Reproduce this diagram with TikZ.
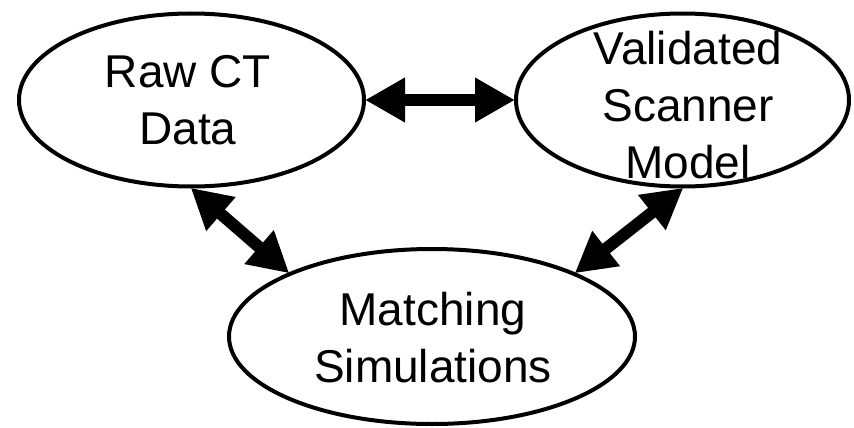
\documentclass[tikz,border=0pt]{standalone}
\usepackage{fontspec}
\setmainfont{Liberation Sans}
\usetikzlibrary{shapes.geometric,arrows.meta}
\tikzset{
  bubble/.style={ellipse, draw=black, line width=4pt, inner sep=0pt, fill=white},
  label text/.style={align=center, inner sep=0pt, font=\fontsize{46pt}{57pt}\selectfont},
  link/.style={line width=12pt, {Triangle[length=40pt,width=42pt]}-{Triangle[length=40pt,width=42pt]}, shorten <=-1pt, shorten >=-1pt}
}
\begin{document}
\begin{tikzpicture}[x=1pt,y=-1pt]
\useasboundingbox[fill=white] (0,0) rectangle (854,428);
\node[bubble, minimum width=345pt, minimum height=173pt] (raw) at (191.5,100) {};
\node[bubble, minimum width=333pt, minimum height=173pt] (val) at (682.5,100) {};
\node[bubble, minimum width=406pt, minimum height=175pt] (match) at (432,336.5) {};
\node[label text] (rawtxt) at (188,100) {Raw CT\\Data};
\node[label text] (valtxt) at (688,105) {Validated\\Scanner\\Model};
\node[label text] (matchtxt) at (433,338) {Matching\\Simulations};
\draw[link] (raw.east) -- (val.west);
\draw[link] (raw.south) -- (match.156);
\draw[link] (val.south) -- (match.24);
\end{tikzpicture}
\end{document}
